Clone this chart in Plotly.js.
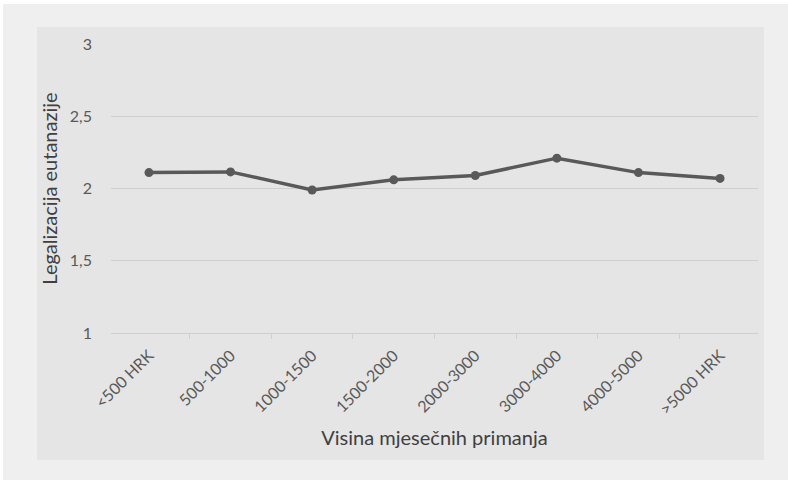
<!DOCTYPE html>
<html>
<head>
<meta charset="utf-8">
<script src="https://cdn.plot.ly/plotly-3.0.1.min.js"></script>
<style>html,body{margin:0;padding:0;background:#fff;}#chart{width:788px;height:480px;}</style>
</head>
<body>
<div id="chart"></div>
<script>
const categories = ["<500 HRK", "500-1000", "1000-1500", "1500-2000", "2000-3000", "3000-4000", "4000-5000", ">5000 HRK"];
const values = [2.11, 2.115, 1.99, 2.06, 2.09, 2.21, 2.11, 2.07];
const yTicks = [1, 1.5, 2, 2.5, 3];
const yTickText = ["1", "1,5", "2", "2,5", "3"];

const W = 788, H = 480;
const L = 111, R = 30, T = 44, B = 147;
const pw = W - L - R, ph = H - T - B;
function px(x){ return (x - L) / pw; }
function py(y){ return (H - B - y) / ph; }

const trace = {
  x: categories,
  y: values,
  type: 'scatter',
  mode: 'lines+markers',
  line: {color: '#595959', width: 3.5},
  marker: {color: '#595959', size: 9, symbol: 'circle'},
  hoverinfo: 'skip'
};

const layout = {
  width: W, height: H,
  margin: {l: L, r: R, t: T, b: B},
  paper_bgcolor: '#efefef',
  plot_bgcolor: 'rgba(0,0,0,0)',
  showlegend: false,
  font: {family: 'Lato, "Open Sans", sans-serif', color: '#595959', size: 15},
  xaxis: {
    type: 'category',
    tickangle: -45,
    tickson: 'boundaries',
    ticks: 'outside',
    ticklen: 5,
    tickcolor: '#cfcfcf',
    showline: true,
    linecolor: '#cfcfcf',
    linewidth: 1,
    showgrid: false,
    zeroline: false,
    automargin: false,
    ticklabelstandoff: 6,
    tickfont: {size: 16, color: '#595959'},
    title: {text: 'Visina mjesečnih primanja', font: {size: 20, color: '#404040'}, standoff: 14}
  },
  yaxis: {
    range: [1, 3],
    tickvals: yTicks,
    ticktext: yTickText,
    showgrid: true,
    gridcolor: '#cfcfcf',
    gridwidth: 1,
    zeroline: false,
    showline: false,
    ticks: '',
    ticklabelstandoff: 18,
    automargin: false,
    tickfont: {size: 16, color: '#595959'},
    title: {text: 'Legalizacija eutanazije', font: {size: 20, color: '#404040'}, standoff: 6}
  },
  shapes: [
    {type: 'rect', xref: 'paper', yref: 'paper', layer: 'below',
     x0: px(0), x1: px(W), y0: py(0), y1: py(4), fillcolor: '#ffffff', line: {width: 0}},
    {type: 'rect', xref: 'paper', yref: 'paper', layer: 'below',
     x0: px(0), x1: px(3), y0: py(0), y1: py(H), fillcolor: '#ffffff', line: {width: 0}},
    {type: 'rect', xref: 'paper', yref: 'paper', layer: 'below',
     x0: px(37), x1: px(764), y0: py(27), y1: py(460), fillcolor: '#e5e5e5', line: {width: 0}}
  ]
};

Plotly.newPlot('chart', [trace], layout, {displayModeBar: false, staticPlot: true});
</script>
</body>
</html>
